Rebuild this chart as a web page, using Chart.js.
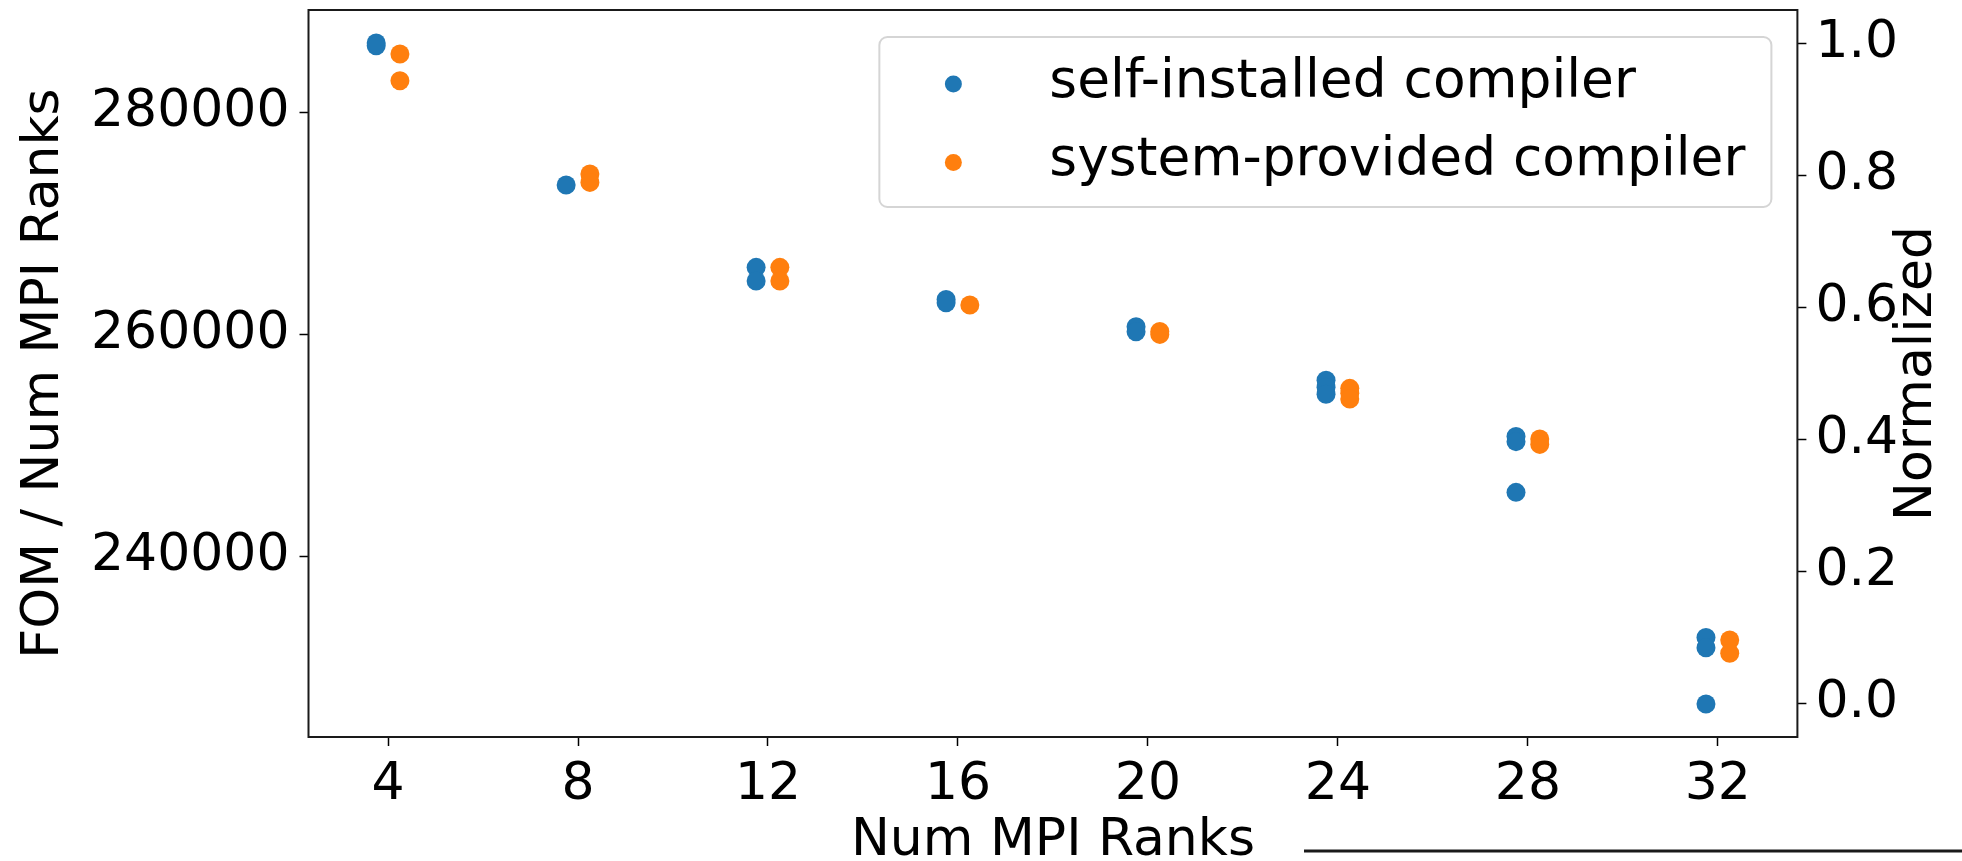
<!DOCTYPE html>
<html>
<head>
<meta charset="utf-8">
<script src="https://cdn.jsdelivr.net/npm/chart.js@4.4.1/dist/chart.umd.min.js"></script>
<style>
  html, body { margin: 0; padding: 0; background: #ffffff; }
  canvas { display: block; }
</style>
</head>
<body>
<canvas id="chart" width="1962" height="861"></canvas>
<script>
// MPI rank counts on the x axis
const rankCounts = [4, 8, 12, 16, 20, 24, 28, 32];

// FOM / Num MPI Ranks, one list of repeated runs per rank count
const selfInstalledFom = [
  [286310, 286060],
  [273490],
  [266060, 264830],
  [263170, 262870],
  [260700, 260250],
  [255880, 255240, 254610],
  [250800, 250330, 245750],
  [232660, 231730, 226650]
];
const systemProvidedFom = [
  [285320, 282910],
  [274490, 273730],
  [266060, 264830],
  [262660],
  [260280, 260010],
  [255140, 254700, 254180],
  [250570, 250080],
  [232430, 231220]
];

// Tick labels
const xTickValues = [4, 8, 12, 16, 20, 24, 28, 32];
const leftTickValues = [240000, 260000, 280000];
const rightTickValues = [0.0, 0.2, 0.4, 0.6, 0.8, 1.0];

const seriesNames = ['self-installed compiler', 'system-provided compiler'];
const seriesColors = ['#1f77b4', '#ff7f0e'];
// side-by-side shift of the two series around each rank count
const rankShift = [-0.25, 0.25];

const FONT = 'DejaVu Sans';
const FS = 52;
const LEGEND_FS = 53.4;

function toPoints(groups, shift) {
  const pts = [];
  groups.forEach((vals, i) => vals.forEach(v => pts.push({ x: rankCounts[i] + shift, y: v })));
  return pts;
}

// axis ranges with a 5% margin around the data
const allValues = selfInstalledFom.flat().concat(systemProvidedFom.flat());
const vMin = Math.min(...allValues);
const vMax = Math.max(...allValues);
const vSpan = vMax - vMin;
const yMin = vMin - 0.05 * vSpan;
const yMax = vMax + 0.05 * vSpan;
const normalize = v => (v - vMin) / vSpan;

const xLo = rankCounts[0] + rankShift[0];
const xHi = rankCounts[rankCounts.length - 1] + rankShift[1];
const xSpan = xHi - xLo;
const xMin = xLo - 0.05 * xSpan;
const xMax = xHi + 0.05 * xSpan;

const tickGrid = {
  display: true,
  drawOnChartArea: false,
  drawTicks: true,
  tickLength: 9,
  tickWidth: 1.5,
  tickColor: '#000'
};

// frame, right-hand title, legend box and the rule under the plot
const decorations = {
  id: 'decorations',
  afterDatasetsDraw(chart) {
    const { ctx, chartArea: a } = chart;
    ctx.save();
    // frame
    ctx.strokeStyle = '#1a1a1a';
    ctx.lineWidth = 2;
    ctx.strokeRect(a.left, a.top, a.right - a.left, a.bottom - a.top);

    // legend
    ctx.font = LEGEND_FS + 'px "' + FONT + '"';
    const textW = Math.max(...seriesNames.map(n => ctx.measureText(n).width));
    const boxRight = a.right - 26;
    const boxTop = a.top + 27;
    const boxW = 74 + 96 + textW + 26;
    const boxH = 170;
    const boxLeft = boxRight - boxW;
    ctx.beginPath();
    ctx.roundRect(boxLeft, boxTop, boxW, boxH, 8);
    ctx.fillStyle = 'rgba(255,255,255,0.8)';
    ctx.fill();
    ctx.strokeStyle = '#d5d5d5';
    ctx.lineWidth = 2;
    ctx.stroke();
    const markerX = boxLeft + 74;
    const rowY = [boxTop + 47, boxTop + 125.5];
    seriesNames.forEach((name, i) => {
      ctx.beginPath();
      ctx.arc(markerX, rowY[i], 8.5, 0, Math.PI * 2);
      ctx.fillStyle = seriesColors[i];
      ctx.fill();
      ctx.fillStyle = '#000';
      ctx.textAlign = 'left';
      ctx.textBaseline = 'alphabetic';
      ctx.fillText(name, markerX + 96, rowY[i] + 12.5);
    });

    // right axis title, reading bottom to top
    ctx.font = FS + 'px "' + FONT + '"';
    ctx.translate(a.right + 120, (a.top + a.bottom) / 2);
    ctx.rotate(-Math.PI / 2);
    ctx.textAlign = 'center';
    ctx.textBaseline = 'middle';
    ctx.fillStyle = '#000';
    ctx.fillText('Normalized', 0, 0);
    ctx.restore();

    // rule along the bottom right
    ctx.save();
    ctx.strokeStyle = '#1a1a1a';
    ctx.lineWidth = 3;
    ctx.beginPath();
    ctx.moveTo(1304, 851);
    ctx.lineTo(chart.width, 851);
    ctx.stroke();
    ctx.restore();
  }
};

Chart.defaults.font.family = FONT;
Chart.defaults.color = '#000';

new Chart(document.getElementById('chart'), {
  type: 'scatter',
  data: {
    datasets: [
      {
        label: seriesNames[0],
        data: toPoints(selfInstalledFom, rankShift[0]),
        backgroundColor: seriesColors[0],
        borderWidth: 0,
        pointRadius: 9.5,
        pointHoverRadius: 9.5,
        yAxisID: 'y'
      },
      {
        label: seriesNames[1],
        data: toPoints(systemProvidedFom, rankShift[1]),
        backgroundColor: seriesColors[1],
        borderWidth: 0,
        pointRadius: 9.5,
        pointHoverRadius: 9.5,
        yAxisID: 'y'
      }
    ]
  },
  options: {
    responsive: false,
    animation: false,
    events: [],
    layout: { padding: { top: 10, left: 0, right: 0, bottom: 0 } },
    plugins: {
      legend: { display: false },
      tooltip: { enabled: false }
    },
    scales: {
      x: {
        type: 'linear',
        position: 'bottom',
        min: xMin,
        max: xMax,
        afterBuildTicks: s => { s.ticks = xTickValues.map(v => ({ value: v })); },
        afterFit: s => { s.height = 124; s.paddingLeft = 0; s.paddingRight = 0; },
        ticks: {
          font: { size: FS },
          color: '#000',
          padding: 8,
          maxRotation: 0,
          autoSkip: false,
          callback: v => String(v)
        },
        grid: tickGrid,
        border: { display: false },
        title: {
          display: true,
          text: 'Num MPI Ranks',
          color: '#000',
          font: { size: FS, lineHeight: 1 },
          padding: { top: 0, bottom: -6 }
        }
      },
      y: {
        type: 'linear',
        position: 'left',
        min: yMin,
        max: yMax,
        afterBuildTicks: s => { s.ticks = leftTickValues.map(v => ({ value: v })); },
        afterFit: s => { s.width = 308.5; s.paddingTop = 0; s.paddingBottom = 0; },
        ticks: {
          font: { size: FS },
          color: '#000',
          padding: 10,
          callback: v => String(v)
        },
        grid: tickGrid,
        border: { display: false },
        title: {
          display: true,
          text: 'FOM / Num MPI Ranks',
          color: '#000',
          font: { size: FS, lineHeight: 1 },
          padding: { top: 18, bottom: 0 }
        }
      },
      y1: {
        type: 'linear',
        position: 'right',
        display: true,
        min: normalize(yMin),
        max: normalize(yMax),
        afterBuildTicks: s => { s.ticks = rightTickValues.map(v => ({ value: v })); },
        afterFit: s => { s.width = 1962 - 1797.4; s.paddingTop = 0; s.paddingBottom = 0; },
        ticks: {
          font: { size: FS },
          color: '#000',
          padding: 9,
          callback: v => v.toFixed(1)
        },
        grid: tickGrid,
        border: { display: false },
        title: { display: false }
      }
    }
  },
  plugins: [decorations]
});
</script>
</body>
</html>
